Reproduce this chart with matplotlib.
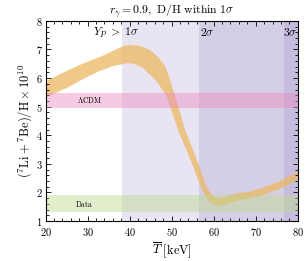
import numpy as np
import matplotlib
matplotlib.use("Agg")
import matplotlib.pyplot as plt
from matplotlib.ticker import MultipleLocator

plt.rcParams['mathtext.fontset'] = 'cm'
plt.rcParams['font.family'] = 'serif'
plt.rcParams['font.serif'] = ['DejaVu Serif']

# upper / lower edges of the lithium band
T_up = [20, 25, 30, 33, 36, 38.5, 40, 42.5, 44.8, 47, 48.5, 49.5, 50.3, 51.2, 53.2, 56.3, 58.3,
        59.5, 60.5, 61.5, 62.5, 64, 66, 68.6, 72, 75.8, 80]
Li_up = [5.88, 6.25, 6.58, 6.74, 6.95, 7.12, 7.16, 7.12, 6.99, 6.7, 6.4, 6.0, 5.6, 5.2, 4.19, 3.03, 2.2,
         1.92, 1.81, 1.79, 1.83, 1.92, 1.98, 2.03, 2.18, 2.40, 2.73]
T_lo = [20, 25, 30, 32.9, 36, 39.5, 41, 43.2, 46.5, 48.4, 49.1, 51.5, 54.8, 57.2, 58.5,
        59.6, 60.6, 61.6, 62.8, 64, 66, 68.6, 72, 75.8, 80]
Li_lo = [5.33, 5.65, 6.05, 6.25, 6.42, 6.52, 6.5, 6.35, 5.88, 5.45, 5.24, 4.19, 3.03, 2.09, 1.75,
         1.59, 1.53, 1.54, 1.58, 1.64, 1.72, 1.78, 1.92, 2.13, 2.44]

# Y_P exclusion thresholds (keV)
sigma_T = [38.3, 56.4, 76.7]
sigma_labels = [r'$Y_P\;>\;1\sigma$', r'$2\sigma$', r'$3\sigma$']

lcdm = (4.97, 5.47)
data = (1.30, 1.90)

xticks = [20, 30, 40, 50, 60, 70, 80]
yticks = [1, 2, 3, 4, 5, 6, 7, 8]

fig = plt.figure(figsize=(3.06, 2.61), dpi=100)
ax = fig.add_axes([0.149, 0.153, 0.824, 0.767])

# shaded Y_P regions, stacked
for t in sigma_T:
    ax.axvspan(t, 80, color=(0.50, 0.42, 0.72), alpha=0.18, lw=0, zorder=0)

# the band
ax.fill(T_up + T_lo[::-1], Li_up + Li_lo[::-1], color=(0.92, 0.72, 0.38), alpha=0.75, lw=0, zorder=1)

ax.axhspan(*lcdm, color=(0.93, 0.55, 0.75), alpha=0.45, lw=0, zorder=2)
ax.axhspan(*data, color=(0.75, 0.85, 0.55), alpha=0.45, lw=0, zorder=2)

ax.text(30.4, 5.22, r'$\Lambda\mathrm{CDM}$', fontsize=5.5, ha='center', va='center')
ax.text(29.2, 1.6, r'$\mathrm{Data}$', fontsize=5.5, ha='center', va='center')

ax.text(42.3, 7.58, sigma_labels[0], fontsize=8.5, ha='right', va='center')
ax.text(56.8, 7.58, sigma_labels[1], fontsize=8.5, ha='left', va='center')
ax.text(79.9, 7.58, sigma_labels[2], fontsize=8.5, ha='right', va='center')

ax.set_xlim(20, 80)
ax.set_ylim(1, 8)
ax.set_xticks(xticks)
ax.set_xticklabels(['$%d$' % v for v in xticks], fontsize=7.5)
ax.set_yticks(yticks)
ax.set_yticklabels(['$%d$' % v for v in yticks], fontsize=7.5)
ax.xaxis.set_minor_locator(MultipleLocator(2))
ax.yaxis.set_minor_locator(MultipleLocator(0.2))
ax.tick_params(which='both', direction='in', top=True, right=True, width=0.6)
ax.tick_params(which='major', length=3.5, pad=2)
ax.tick_params(axis='x', which='major', pad=3.5)
ax.tick_params(which='minor', length=2)
for s in ax.spines.values():
    s.set_linewidth(0.8)

ax.set_xlabel(r'$\overline{T}\ [\mathrm{keV}]$', fontsize=9, labelpad=2)
ax.set_ylabel(r'$(^7\mathrm{Li} + {}^7\mathrm{Be})/\mathrm{H} \times 10^{10}$', fontsize=9, labelpad=1)
ax.set_title(r'$r_\gamma = 0.9,\ \mathrm{D/H\ within\ 1}\sigma$', fontsize=8.5, pad=5)

fig.savefig('out.png', dpi=100)
